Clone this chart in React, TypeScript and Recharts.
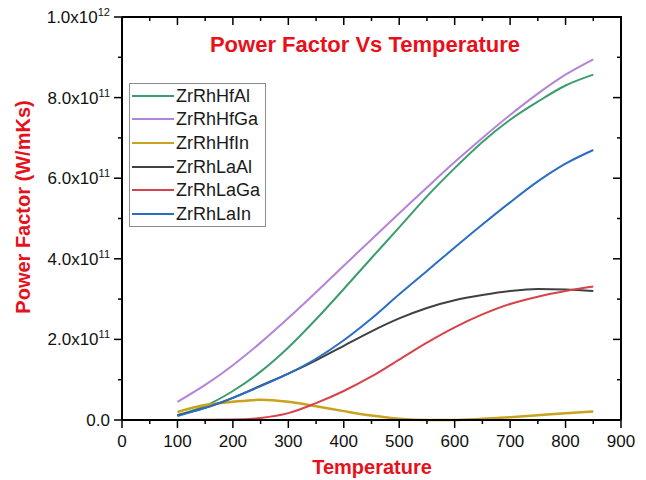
import { LineChart, Line, XAxis, YAxis, Legend } from "recharts"

// temperature grid (K)
const temperatures = [100, 150, 200, 250, 300, 350, 400, 450, 500, 550, 600, 650, 700, 750, 800, 850]

// power factor, in units of 1e11 W/mKs
const zrRhHfAl = [0.12, 0.35, 0.72, 1.2, 1.8, 2.5, 3.25, 4.02, 4.78, 5.55, 6.25, 6.9, 7.45, 7.9, 8.3, 8.57]
const zrRhHfGa = [0.45, 0.87, 1.36, 1.92, 2.53, 3.17, 3.83, 4.48, 5.13, 5.77, 6.4, 7.0, 7.57, 8.1, 8.57, 8.95]
const zrRhHfIn = [0.2, 0.37, 0.45, 0.5, 0.45, 0.34, 0.22, 0.11, 0.03, 0.0, 0.0, 0.03, 0.07, 0.12, 0.17, 0.21]
const zrRhLaAl = [0.12, 0.3, 0.55, 0.85, 1.15, 1.48, 1.84, 2.2, 2.52, 2.78, 2.97, 3.1, 3.2, 3.25, 3.24, 3.2]
const zrRhLaGa = [0, 0.005, 0.01, 0.05, 0.17, 0.42, 0.72, 1.08, 1.5, 1.92, 2.3, 2.62, 2.88, 3.06, 3.2, 3.31]
const zrRhLaIn = [0.1, 0.3, 0.55, 0.84, 1.15, 1.52, 1.98, 2.52, 3.12, 3.7, 4.28, 4.85, 5.4, 5.92, 6.36, 6.7]

const SCALE = 1e11

const X_MAX = 900
const Y_MAX = 10 * SCALE
const xTicks = [0, 50, 100, 150, 200, 250, 300, 350, 400, 450, 500, 550, 600, 650, 700, 750, 800, 850, 900]
const yTicks = [0, 1, 2, 3, 4, 5, 6, 7, 8, 9, 10].map((v) => v * SCALE)

// chart geometry, shared by the chart and the frame overlay
const W = 646
const H = 480
const MARGIN_TOP = 17
const MARGIN_RIGHT = 25
const Y_AXIS_W = 122
const X_AXIS_H = 60
const plotLeft = Y_AXIS_W
const plotRight = W - MARGIN_RIGHT
const plotTop = MARGIN_TOP
const plotBottom = H - X_AXIS_H

const FONT = "'Liberation Sans', Arial, sans-serif"
const RED = "#e8101a"

const series = [
  { key: "ZrRhHfAl", values: zrRhHfAl, color: "#3a9e6c" },
  { key: "ZrRhHfGa", values: zrRhHfGa, color: "#b583d8" },
  { key: "ZrRhHfIn", values: zrRhHfIn, color: "#c9a21e" },
  { key: "ZrRhLaAl", values: zrRhLaAl, color: "#404040" },
  { key: "ZrRhLaGa", values: zrRhLaGa, color: "#d6434a" },
  { key: "ZrRhLaIn", values: zrRhLaIn, color: "#2a6ec4" },
]

const data = temperatures.map((t, i) => {
  const row: Record<string, number> = { t }
  series.forEach((s) => {
    row[s.key] = s.values[i] * SCALE
  })
  return row
})

const isMajorX = (v: number) => v % 100 === 0
const isMajorY = (v: number) => Math.round(v / SCALE) % 2 === 0

function BottomTick({ x, y, payload }: any) {
  const major = isMajorX(payload.value)
  return (
    <g>
      <line x1={x} x2={x} y1={y} y2={y + (major ? 8 : 4)} stroke="#000" strokeWidth={1.5} />
      {major && (
        <text x={x} y={y + 27} textAnchor="middle" fontSize={17} fontFamily={FONT} fill="#111">
          {payload.value}
        </text>
      )}
    </g>
  )
}

function LeftTick({ x, y, payload }: any) {
  const v: number = payload.value
  const major = isMajorY(v)
  let label = null
  if (major) {
    if (v === 0) {
      label = (
        <text x={x - 12} y={y} dy="0.35em" textAnchor="end" fontSize={17} fontFamily={FONT} fill="#111">
          0.0
        </text>
      )
    } else {
      const exp = Math.floor(Math.log10(v) + 1e-9)
      const mant = (v / Math.pow(10, exp)).toFixed(1)
      label = (
        <text x={x - 12} y={y} dy="0.35em" textAnchor="end" fontSize={17} fontFamily={FONT} fill="#111">
          {mant}x10
          <tspan dy={-7} fontSize={11}>
            {exp}
          </tspan>
        </text>
      )
    }
  }
  return (
    <g>
      <line x1={x} x2={x - (major ? 8 : 4)} y1={y} y2={y} stroke="#000" strokeWidth={1.5} />
      {label}
    </g>
  )
}

// top and right edges of the box, ticks pointing inward
function BoxFrame() {
  const sx = (t: number) => plotLeft + (t / X_MAX) * (plotRight - plotLeft)
  const sy = (v: number) => plotBottom - (v / Y_MAX) * (plotBottom - plotTop)
  return (
    <g>
      <line x1={plotLeft} x2={plotRight + 1} y1={plotTop} y2={plotTop} stroke="#000" strokeWidth={2} />
      <line x1={plotRight} x2={plotRight} y1={plotTop} y2={plotBottom} stroke="#000" strokeWidth={2} />
      {xTicks.map((t) => (
        <line
          key={`x${t}`}
          x1={sx(t)}
          x2={sx(t)}
          y1={plotTop}
          y2={plotTop + (isMajorX(t) ? 8 : 4)}
          stroke="#000"
          strokeWidth={1.5}
        />
      ))}
      {yTicks.map((v) => (
        <line
          key={`y${v}`}
          x1={plotRight}
          x2={plotRight - (isMajorY(v) ? 8 : 4)}
          y1={sy(v)}
          y2={sy(v)}
          stroke="#000"
          strokeWidth={1.5}
        />
      ))}
    </g>
  )
}

function LegendBox({ payload }: any) {
  return (
    <div
      style={{
        border: "1px solid #8c8c8c",
        background: "#fff",
        padding: "0 2px",
        width: 137,
        boxSizing: "border-box",
      }}
    >
      {(payload || []).map((p: any) => (
        <div key={p.value} style={{ display: "flex", alignItems: "center", height: 23.6 }}>
          <span style={{ display: "inline-block", width: 42, height: 2, background: p.color }} />
          <span style={{ marginLeft: 2, fontSize: 18, fontFamily: FONT, color: "#1a1a1a", lineHeight: 1 }}>
            {p.value}
          </span>
        </div>
      ))}
    </div>
  )
}

const axisStroke = { stroke: "#000", strokeWidth: 2 }

export default function App() {
  return (
    <div style={{ position: "absolute", left: 0, top: 0, width: W, height: H, background: "#fff" }}>
      <LineChart
        width={W}
        height={H}
        data={data}
        margin={{ top: MARGIN_TOP, right: MARGIN_RIGHT, bottom: 0, left: 0 }}
      >
        <XAxis
          dataKey="t"
          type="number"
          domain={[0, X_MAX]}
          ticks={xTicks}
          interval={0}
          height={X_AXIS_H}
          tickSize={0}
          tickMargin={0}
          tickLine={false}
          axisLine={axisStroke}
          tick={<BottomTick />}
        />
        <YAxis
          type="number"
          domain={[0, Y_MAX]}
          ticks={yTicks}
          interval={0}
          width={Y_AXIS_W}
          tickSize={0}
          tickMargin={0}
          tickLine={false}
          axisLine={axisStroke}
          tick={<LeftTick />}
        />
        <Legend
          layout="vertical"
          align="center"
          verticalAlign="middle"
          content={<LegendBox />}
          wrapperStyle={{ position: "absolute", left: 129, top: 83, width: 137 }}
        />
        {series.map((s) => (
          <Line
            key={s.key}
            type="monotone"
            dataKey={s.key}
            name={s.key}
            stroke={s.color}
            strokeWidth={s.key === "ZrRhHfIn" ? 2.5 : 2}
            dot={false}
            isAnimationActive={false}
          />
        ))}
      </LineChart>
      <svg width={W} height={H} style={{ position: "absolute", left: 0, top: 0, pointerEvents: "none" }}>
        <BoxFrame />
        <text x={365} y={52} textAnchor="middle" fontSize={22} fontWeight="bold" fontFamily={FONT} fill={RED}>
          Power Factor Vs Temperature
        </text>
        <text x={372} y={474} textAnchor="middle" fontSize={20} fontWeight="bold" fontFamily={FONT} fill={RED}>
          Temperature
        </text>
        <text
          transform="translate(30,207) rotate(-90)"
          textAnchor="middle"
          fontSize={20}
          fontWeight="bold"
          fontFamily={FONT}
          fill={RED}
        >
          Power Factor (W/mKs)
        </text>
      </svg>
    </div>
  )
}
